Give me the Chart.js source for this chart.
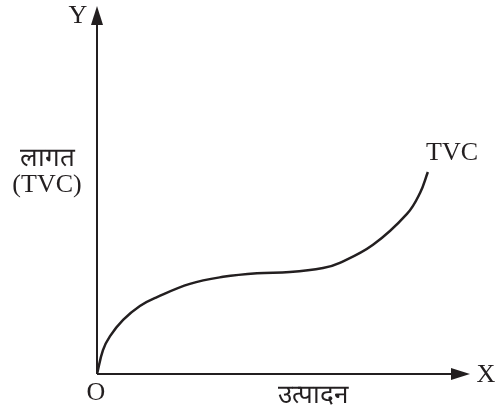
<!DOCTYPE html>
<html>
<head>
<meta charset="utf-8">
<script src="https://cdn.jsdelivr.net/npm/chart.js@4.4.1/dist/chart.umd.min.js"></script>
<style>
  html, body { margin: 0; padding: 0; background: #fff; }
  #wrap { width: 497px; height: 415px; }
</style>
</head>
<body>
<div id="wrap"><canvas id="chart" width="497" height="415"></canvas></div>
<script>
// TVC curve (output, cost)
const output = [0, 1.6, 3.5, 7.0, 11.5, 16.1, 24.9, 33.8, 42.9, 51.7, 60.6, 65.1, 74.0, 83.1, 86.6, 88.7];
const cost   = [0, 6.5, 10.3, 14.7, 18.5, 20.9, 24.5, 26.4, 27.4, 27.7, 28.8, 30.2, 35.1, 43.5, 49.2, 54.9];

const xName = "X";
const yName = "Y";
const originName = "O";
const xTitle = "उत्पादन";
const yTitle = ["लागत", "(TVC)"];
const curveName = "TVC";

const ink = "#231f20";
const font = "26px 'Liberation Serif', 'Times New Roman', serif";

let points = output.map((x, i) => ({ x: x, y: cost[i] }));

// axes with arrows and all the labels
const axesPlugin = {
  id: "axes",
  afterDraw(chart) {
    const ctx = chart.ctx;
    const xs = chart.scales.x, ys = chart.scales.y;
    const ox = xs.getPixelForValue(0), oy = ys.getPixelForValue(0);
    const xEnd = xs.getPixelForValue(100), yEnd = ys.getPixelForValue(100);

    ctx.save();
    ctx.strokeStyle = ink;
    ctx.fillStyle = ink;
    ctx.lineWidth = 2;
    ctx.beginPath();
    ctx.moveTo(ox, oy);
    ctx.lineTo(xEnd - 12, oy);
    ctx.moveTo(ox, oy);
    ctx.lineTo(ox, yEnd + 12);
    ctx.stroke();

    // arrow heads
    ctx.beginPath();
    ctx.moveTo(xEnd, oy);
    ctx.lineTo(xEnd - 19, oy - 6);
    ctx.lineTo(xEnd - 19, oy + 6);
    ctx.closePath();
    ctx.fill();
    ctx.beginPath();
    ctx.moveTo(ox, yEnd);
    ctx.lineTo(ox - 6, yEnd + 19);
    ctx.lineTo(ox + 6, yEnd + 19);
    ctx.closePath();
    ctx.fill();

    ctx.font = font;
    ctx.textAlign = "center";
    ctx.textBaseline = "alphabetic";
    ctx.fillText(yName, ox - 19, yEnd + 17);
    ctx.fillText(xName, xEnd + 16, oy + 8);
    ctx.fillText(originName, ox - 1, oy + 26);
    ctx.fillText(xTitle, 313, oy + 29);
    ctx.fillText(yTitle[0], 47, 166);
    ctx.fillText(yTitle[1], 47, 192);
    ctx.fillText(curveName, 452, 160);
    ctx.restore();
  }
};

new Chart(document.getElementById("chart"), {
  type: "scatter",
  data: {
    datasets: [{
      data: points,
      showLine: true,
      borderColor: ink,
      borderWidth: 2.5,
      pointRadius: 0,
      tension: 0.4,
      fill: false
    }]
  },
  options: {
    responsive: false,
    animation: false,
    layout: { padding: { left: 97, right: 27, top: 6, bottom: 41 } },
    plugins: { legend: { display: false }, tooltip: { enabled: false } },
    scales: {
      x: { type: "linear", min: 0, max: 100, display: false },
      y: { type: "linear", min: 0, max: 100, display: false }
    }
  },
  plugins: [axesPlugin]
});
</script>
</body>
</html>
